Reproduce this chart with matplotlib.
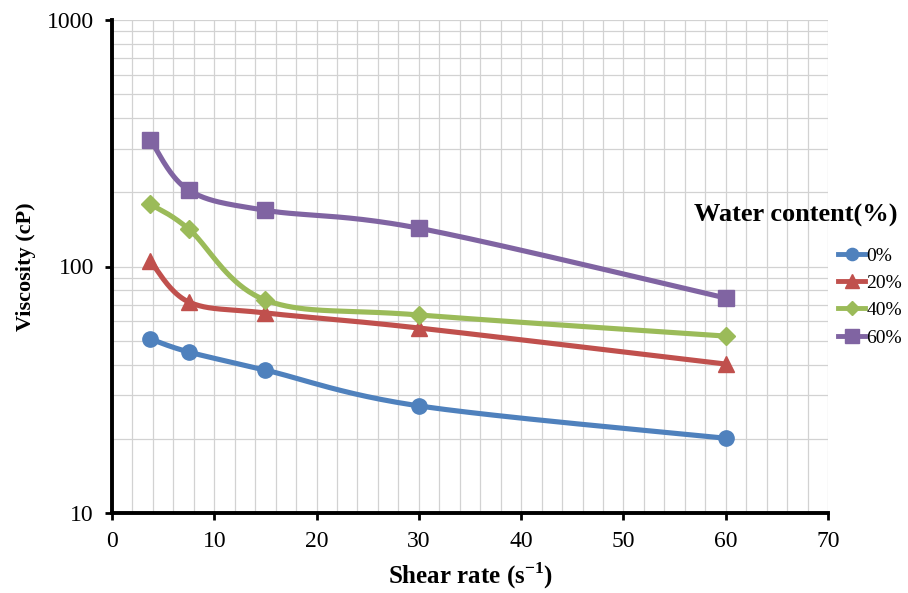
import numpy as np
import matplotlib
matplotlib.use("Agg")
import matplotlib.pyplot as plt
from matplotlib.ticker import MultipleLocator, LogLocator, FixedLocator, NullFormatter
from matplotlib.lines import Line2D

shear_rate = [3.75, 7.5, 15, 30, 60]
visc_0 = [50.8, 45.0, 38.0, 27.2, 20.1]
visc_20 = [105, 71.8, 64.8, 56.3, 40.2]
visc_40 = [179, 142, 73.1, 63.6, 52.2]
visc_60 = [326, 204, 169, 143, 74.5]
series_labels = ["0%", "20%", "40%", "60%"]
x_ticks = [0, 10, 20, 30, 40, 50, 60, 70]
y_ticks = [10, 100, 1000]

colors = ["#4F81BD", "#C0504D", "#9BBB59", "#8064A2"]
markers = ["o", "^", "D", "s"]
msizes = [11, 12, 9.5, 12]

plt.rcParams['font.family'] = ['Liberation Serif', 'DejaVu Serif']

fig = plt.figure(figsize=(9.08, 5.93), dpi=100)
ax = fig.add_axes([112/908, 1-513/593, (828-112)/908, (513-20)/593])


def smooth(xs, ys, n=40):
    # Catmull-Rom (Bezier) smoothing in (x, log10 y) space, like Excel smoothed lines
    P = np.column_stack([np.asarray(xs, float), np.log10(np.asarray(ys, float))])
    out = []
    m = len(P)
    for i in range(m - 1):
        p0 = P[i - 1] if i > 0 else P[i]
        p1 = P[i]
        p2 = P[i + 1]
        p3 = P[i + 2] if i + 2 < m else P[i + 1]
        b1 = p1 + (p2 - p0) / 6
        b2 = p2 - (p3 - p1) / 6
        t = np.linspace(0, 1, n)[:, None]
        seg = ((1 - t) ** 3) * p1 + 3 * ((1 - t) ** 2) * t * b1 + 3 * (1 - t) * t ** 2 * b2 + t ** 3 * p2
        out.append(seg if i == 0 else seg[1:])
    S = np.vstack(out)
    return S[:, 0], 10 ** S[:, 1]


handles = []
for ys, c, mk, ms, lab in zip([visc_0, visc_20, visc_40, visc_60], colors, markers, msizes, series_labels):
    sx, sy = smooth(shear_rate, ys)
    ax.plot(sx, sy, color=c, lw=3.7, solid_capstyle='round', zorder=3)
    ax.plot(shear_rate, ys, linestyle='none', marker=mk, ms=ms, color=c, zorder=4)
    handles.append(Line2D([0], [0], color=c, lw=3.5, marker=mk, ms=ms * 0.8, label=lab))

ax.set_yscale('log')
ax.set_xlim(0, 70)
ax.set_ylim(10, 1000)
ax.xaxis.set_major_locator(FixedLocator(x_ticks))
ax.xaxis.set_minor_locator(MultipleLocator(2))
ax.yaxis.set_major_locator(FixedLocator(y_ticks))
ax.yaxis.set_minor_locator(LogLocator(base=10, subs=np.arange(2, 10)))
ax.yaxis.set_minor_formatter(NullFormatter())
ax.set_yticklabels([str(v) for v in y_ticks])
ax.set_xticklabels([str(v) for v in x_ticks])

ax.grid(True, which='both', color='#d2d2d2', lw=0.9, zorder=0)
ax.set_axisbelow(True)
for s in ['top', 'right']:
    ax.spines[s].set_visible(False)
for s in ['left', 'bottom']:
    ax.spines[s].set_linewidth(2.8)
    ax.spines[s].set_color('black')
    ax.spines[s].set_zorder(5)

ax.tick_params(axis='both', which='major', direction='out', length=5, width=2, labelsize=17, pad=8)
ax.tick_params(axis='both', which='minor', length=0)

ax.set_xlabel("Shear rate (s$^{\\mathregular{-1}}$)", fontsize=18, fontweight='bold', labelpad=6)
ax.set_ylabel("Viscosity (cP)", fontsize=16, fontweight='bold', labelpad=8)

fig.text(796/908, 1-215/593, "Water content(%)", fontsize=19, fontweight='bold', ha='center', va='center')
leg = fig.legend(handles=handles, loc='upper left', bbox_to_anchor=(838/908, 1-247/593),
                 frameon=False, fontsize=14, handlelength=1.4, handletextpad=0.05,
                 labelspacing=0.5, borderaxespad=0, borderpad=0)

fig.savefig("out.png", dpi=100)
